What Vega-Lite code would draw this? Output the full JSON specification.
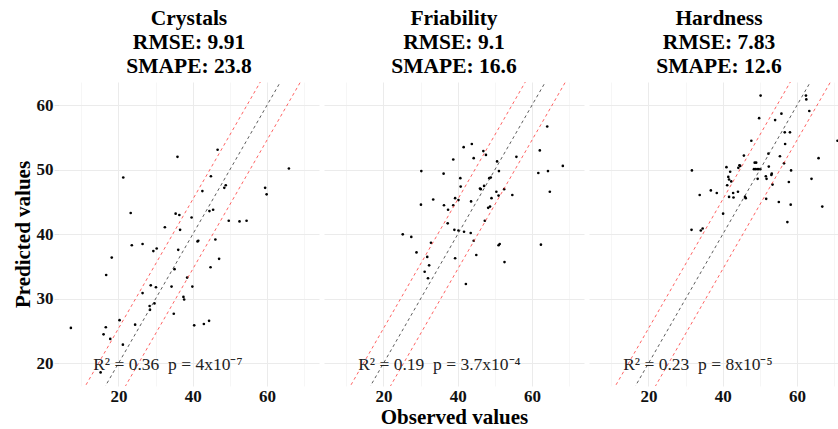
{
  "$schema": "https://vega.github.io/schema/vega-lite/v6.json",
  "padding": {"left": 12, "top": 7, "right": 0, "bottom": 0},
  "spacing": 5,
  "background": "white",
  "config": {
    "view": {"stroke": null},
    "font": "Liberation Serif",
    "axis": {
      "labelFont": "Liberation Serif",
      "labelFontWeight": "bold",
      "labelFontSize": 17,
      "labelColor": "#111111",
      "titleFont": "Liberation Serif",
      "titleFontWeight": "bold",
      "titleFontSize": 21,
      "titleColor": "black",
      "domain": false,
      "labelFlush": false,
      "labelOverlap": false
    }
  },
  "datasets": {
    "pts": [
      {"panel":"Crystals","observed":7.2,"predicted":25.5},
      {"panel":"Crystals","observed":15.2,"predicted":18.6},
      {"panel":"Crystals","observed":16.6,"predicted":25.6},
      {"panel":"Crystals","observed":16.0,"predicted":24.5},
      {"panel":"Crystals","observed":17.8,"predicted":23.8},
      {"panel":"Crystals","observed":16.7,"predicted":33.7},
      {"panel":"Crystals","observed":18.2,"predicted":36.4},
      {"panel":"Crystals","observed":20.3,"predicted":26.7},
      {"panel":"Crystals","observed":21.2,"predicted":22.9},
      {"panel":"Crystals","observed":21.3,"predicted":48.8},
      {"panel":"Crystals","observed":23.3,"predicted":43.3},
      {"panel":"Crystals","observed":23.6,"predicted":38.3},
      {"panel":"Crystals","observed":24.5,"predicted":26.0},
      {"panel":"Crystals","observed":26.5,"predicted":30.9},
      {"panel":"Crystals","observed":26.5,"predicted":38.5},
      {"panel":"Crystals","observed":28.4,"predicted":28.9},
      {"panel":"Crystals","observed":28.5,"predicted":28.3},
      {"panel":"Crystals","observed":28.7,"predicted":32.1},
      {"panel":"Crystals","observed":29.4,"predicted":37.4},
      {"panel":"Crystals","observed":30.3,"predicted":37.8},
      {"panel":"Crystals","observed":29.7,"predicted":29.3},
      {"panel":"Crystals","observed":30.1,"predicted":31.8},
      {"panel":"Crystals","observed":32.5,"predicted":41.1},
      {"panel":"Crystals","observed":34.3,"predicted":31.9},
      {"panel":"Crystals","observed":34.9,"predicted":27.7},
      {"panel":"Crystals","observed":35.1,"predicted":34.6},
      {"panel":"Crystals","observed":35.4,"predicted":43.2},
      {"panel":"Crystals","observed":35.9,"predicted":52.0},
      {"panel":"Crystals","observed":36.1,"predicted":37.6},
      {"panel":"Crystals","observed":36.4,"predicted":43.0},
      {"panel":"Crystals","observed":36.6,"predicted":40.7},
      {"panel":"Crystals","observed":37.5,"predicted":30.3},
      {"panel":"Crystals","observed":37.7,"predicted":29.9},
      {"panel":"Crystals","observed":38.5,"predicted":33.3},
      {"panel":"Crystals","observed":39.7,"predicted":42.6},
      {"panel":"Crystals","observed":39.9,"predicted":31.9},
      {"panel":"Crystals","observed":40.4,"predicted":25.9},
      {"panel":"Crystals","observed":41.3,"predicted":38.9},
      {"panel":"Crystals","observed":41.5,"predicted":39.0},
      {"panel":"Crystals","observed":42.6,"predicted":46.7},
      {"panel":"Crystals","observed":43.0,"predicted":26.1},
      {"panel":"Crystals","observed":44.4,"predicted":26.6},
      {"panel":"Crystals","observed":44.5,"predicted":43.6},
      {"panel":"Crystals","observed":44.8,"predicted":34.9},
      {"panel":"Crystals","observed":44.9,"predicted":49.0},
      {"panel":"Crystals","observed":45.5,"predicted":43.8},
      {"panel":"Crystals","observed":46.1,"predicted":39.2},
      {"panel":"Crystals","observed":46.7,"predicted":53.1},
      {"panel":"Crystals","observed":47.1,"predicted":36.2},
      {"panel":"Crystals","observed":48.5,"predicted":47.2},
      {"panel":"Crystals","observed":48.9,"predicted":47.6},
      {"panel":"Crystals","observed":49.7,"predicted":42.1},
      {"panel":"Crystals","observed":52.6,"predicted":42.0},
      {"panel":"Crystals","observed":54.5,"predicted":42.1},
      {"panel":"Crystals","observed":59.5,"predicted":47.2},
      {"panel":"Crystals","observed":59.9,"predicted":46.2},
      {"panel":"Crystals","observed":65.9,"predicted":50.2},
      {"panel":"Friability","observed":25.2,"predicted":40.0},
      {"panel":"Friability","observed":27.5,"predicted":39.6},
      {"panel":"Friability","observed":28.9,"predicted":37.2},
      {"panel":"Friability","observed":30.2,"predicted":49.8},
      {"panel":"Friability","observed":30.1,"predicted":44.6},
      {"panel":"Friability","observed":31.1,"predicted":34.2},
      {"panel":"Friability","observed":31.8,"predicted":36.5},
      {"panel":"Friability","observed":32.0,"predicted":33.2},
      {"panel":"Friability","observed":32.3,"predicted":35.2},
      {"panel":"Friability","observed":32.8,"predicted":38.7},
      {"panel":"Friability","observed":33.4,"predicted":45.4},
      {"panel":"Friability","observed":36.2,"predicted":49.4},
      {"panel":"Friability","observed":36.3,"predicted":44.5},
      {"panel":"Friability","observed":37.4,"predicted":43.8},
      {"panel":"Friability","observed":37.3,"predicted":41.7},
      {"panel":"Friability","observed":38.8,"predicted":51.6},
      {"panel":"Friability","observed":38.8,"predicted":44.5},
      {"panel":"Friability","observed":39.3,"predicted":45.6},
      {"panel":"Friability","observed":39.1,"predicted":40.7},
      {"panel":"Friability","observed":39.3,"predicted":36.3},
      {"panel":"Friability","observed":40.2,"predicted":45.3},
      {"panel":"Friability","observed":40.2,"predicted":40.6},
      {"panel":"Friability","observed":40.7,"predicted":48.7},
      {"panel":"Friability","observed":40.8,"predicted":47.4},
      {"panel":"Friability","observed":41.6,"predicted":53.5},
      {"panel":"Friability","observed":41.7,"predicted":40.4},
      {"panel":"Friability","observed":42.2,"predicted":32.3},
      {"panel":"Friability","observed":43.5,"predicted":40.2},
      {"panel":"Friability","observed":43.6,"predicted":45.1},
      {"panel":"Friability","observed":43.8,"predicted":54.0},
      {"panel":"Friability","observed":44.3,"predicted":51.8},
      {"panel":"Friability","observed":44.3,"predicted":39.0},
      {"panel":"Friability","observed":45.0,"predicted":36.8},
      {"panel":"Friability","observed":46.0,"predicted":47.1},
      {"panel":"Friability","observed":46.2,"predicted":47.0},
      {"panel":"Friability","observed":46.9,"predicted":52.9},
      {"panel":"Friability","observed":47.1,"predicted":47.5},
      {"panel":"Friability","observed":47.3,"predicted":42.1},
      {"panel":"Friability","observed":47.6,"predicted":52.3},
      {"panel":"Friability","observed":48.2,"predicted":44.1},
      {"panel":"Friability","observed":48.7,"predicted":44.3},
      {"panel":"Friability","observed":48.5,"predicted":48.7},
      {"panel":"Friability","observed":48.9,"predicted":48.8},
      {"panel":"Friability","observed":49.1,"predicted":45.6},
      {"panel":"Friability","observed":50.4,"predicted":46.6},
      {"panel":"Friability","observed":50.6,"predicted":51.3},
      {"panel":"Friability","observed":51.0,"predicted":46.0},
      {"panel":"Friability","observed":51.1,"predicted":49.8},
      {"panel":"Friability","observed":51.0,"predicted":38.3},
      {"panel":"Friability","observed":51.3,"predicted":38.5},
      {"panel":"Friability","observed":52.5,"predicted":47.0},
      {"panel":"Friability","observed":52.6,"predicted":35.7},
      {"panel":"Friability","observed":54.7,"predicted":46.1},
      {"panel":"Friability","observed":55.8,"predicted":52.0},
      {"panel":"Friability","observed":61.7,"predicted":49.5},
      {"panel":"Friability","observed":62.1,"predicted":53.0},
      {"panel":"Friability","observed":62.4,"predicted":38.4},
      {"panel":"Friability","observed":64.1,"predicted":56.7},
      {"panel":"Friability","observed":64.3,"predicted":49.8},
      {"panel":"Friability","observed":64.8,"predicted":46.6},
      {"panel":"Friability","observed":68.3,"predicted":50.6},
      {"panel":"Hardness","observed":31.7,"predicted":49.9},
      {"panel":"Hardness","observed":31.6,"predicted":40.7},
      {"panel":"Hardness","observed":33.8,"predicted":46.1},
      {"panel":"Hardness","observed":34.1,"predicted":40.6},
      {"panel":"Hardness","observed":34.6,"predicted":40.9},
      {"panel":"Hardness","observed":36.8,"predicted":46.8},
      {"panel":"Hardness","observed":38.4,"predicted":46.4},
      {"panel":"Hardness","observed":40.1,"predicted":43.2},
      {"panel":"Hardness","observed":41.0,"predicted":50.4},
      {"panel":"Hardness","observed":41.2,"predicted":47.6},
      {"panel":"Hardness","observed":41.5,"predicted":48.9},
      {"panel":"Hardness","observed":41.7,"predicted":48.5},
      {"panel":"Hardness","observed":42.0,"predicted":49.7},
      {"panel":"Hardness","observed":41.7,"predicted":45.8},
      {"panel":"Hardness","observed":42.3,"predicted":48.2},
      {"panel":"Hardness","observed":42.8,"predicted":46.4},
      {"panel":"Hardness","observed":42.9,"predicted":45.7},
      {"panel":"Hardness","observed":44.1,"predicted":46.6},
      {"panel":"Hardness","observed":44.2,"predicted":50.3},
      {"panel":"Hardness","observed":44.5,"predicted":50.7},
      {"panel":"Hardness","observed":44.7,"predicted":50.6},
      {"panel":"Hardness","observed":45.7,"predicted":52.2},
      {"panel":"Hardness","observed":46.0,"predicted":45.8},
      {"panel":"Hardness","observed":46.2,"predicted":45.6},
      {"panel":"Hardness","observed":47.7,"predicted":54.5},
      {"panel":"Hardness","observed":48.4,"predicted":50.1},
      {"panel":"Hardness","observed":48.6,"predicted":51.1},
      {"panel":"Hardness","observed":49.0,"predicted":51.1},
      {"panel":"Hardness","observed":48.9,"predicted":50.1},
      {"panel":"Hardness","observed":49.4,"predicted":48.6},
      {"panel":"Hardness","observed":49.5,"predicted":50.1},
      {"panel":"Hardness","observed":49.8,"predicted":58.0},
      {"panel":"Hardness","observed":50.2,"predicted":61.5},
      {"panel":"Hardness","observed":50.1,"predicted":50.1},
      {"panel":"Hardness","observed":51.6,"predicted":49.0},
      {"panel":"Hardness","observed":51.8,"predicted":48.6},
      {"panel":"Hardness","observed":51.7,"predicted":45.5},
      {"panel":"Hardness","observed":52.3,"predicted":52.5},
      {"panel":"Hardness","observed":52.4,"predicted":50.5},
      {"panel":"Hardness","observed":53.2,"predicted":49.4},
      {"panel":"Hardness","observed":53.1,"predicted":49.2},
      {"panel":"Hardness","observed":53.4,"predicted":47.7},
      {"panel":"Hardness","observed":54.1,"predicted":57.7},
      {"panel":"Hardness","observed":55.1,"predicted":45.0},
      {"panel":"Hardness","observed":55.4,"predicted":52.1},
      {"panel":"Hardness","observed":55.8,"predicted":58.7},
      {"panel":"Hardness","observed":56.5,"predicted":51.0},
      {"panel":"Hardness","observed":56.7,"predicted":55.8},
      {"panel":"Hardness","observed":56.8,"predicted":54.0},
      {"panel":"Hardness","observed":57.4,"predicted":41.9},
      {"panel":"Hardness","observed":57.8,"predicted":48.1},
      {"panel":"Hardness","observed":58.1,"predicted":55.8},
      {"panel":"Hardness","observed":58.3,"predicted":44.6},
      {"panel":"Hardness","observed":58.4,"predicted":49.9},
      {"panel":"Hardness","observed":62.4,"predicted":61.5},
      {"panel":"Hardness","observed":62.5,"predicted":60.9},
      {"panel":"Hardness","observed":63.3,"predicted":59.1},
      {"panel":"Hardness","observed":63.9,"predicted":48.6},
      {"panel":"Hardness","observed":65.8,"predicted":51.8},
      {"panel":"Hardness","observed":66.8,"predicted":44.3},
      {"panel":"Hardness","observed":70.9,"predicted":54.5}
    ],
    "lines": [
      {"kind":"ref","observed":0,"predicted":0},
      {"kind":"ref","observed":80,"predicted":80},
      {"kind":"lo","observed":0,"predicted":-5.4},
      {"kind":"lo","observed":80,"predicted":74.6},
      {"kind":"hi","observed":0,"predicted":5.4},
      {"kind":"hi","observed":80,"predicted":85.4}
    ],
    "ann": [
      {"panel":"Crystals","observed":13.2,"predicted":19.05,"label":"R² = 0.36 \u00a0p = 4x10⁻⁷"},
      {"panel":"Friability","observed":13.2,"predicted":19.05,"label":"R² = 0.19 \u00a0p = 3.7x10⁻⁴"},
      {"panel":"Hardness","observed":13.2,"predicted":19.05,"label":"R² = 0.23 \u00a0p = 8x10⁻⁵"}
    ]
  },
  "hconcat": [
    {
      "width": 260, "height": 304,
      "title": {"text": ["Crystals", "RMSE: 9.91", "SMAPE: 23.8"], "font": "Liberation Serif", "fontSize": 21.5, "fontWeight": "bold", "lineHeight": 24, "anchor": "middle", "offset": 5, "color": "black"},
      "layer": [
        {
          "data": {"name": "pts"},
          "transform": [{"filter": "datum.panel === 'Crystals'"}],
          "mark": {"type": "circle", "size": 7, "color": "black", "opacity": 1},
          "encoding": {
            "x": {"field": "observed", "type": "quantitative", "scale": {"domain": [4, 74], "nice": false, "zero": false},
              "axis": {"values": [10,20,30,40,50,60,70], "labelExpr": "datum.value % 20 === 0 ? datum.label : ''", "ticks": false, "labelPadding": 2, "title": null,
                "gridColor": {"condition": {"test": "datum.value % 20 === 0", "value": "#EBEBEB"}, "value": "#F6F6F6"}}},
            "y": {"field": "predicted", "type": "quantitative", "scale": {"domain": [16.5, 63.6], "nice": false, "zero": false},
              "axis": {"values": [20,25,30,35,40,45,50,55,60], "labelExpr": "datum.value % 10 === 0 ? datum.label : ''", "ticks": true, "tickSize": 5,
                "tickColor": {"condition": {"test": "datum.value % 10 === 0", "value": "#E3E3E3"}, "value": "#F6F6F6"},
                "labelPadding": 1, "title": "Predicted values", "titlePadding": 3,
                "gridColor": {"condition": {"test": "datum.value % 10 === 0", "value": "#EBEBEB"}, "value": "#F6F6F6"}}}
          }
        },
        {
          "data": {"name": "lines"},
          "mark": {"type": "line", "clip": true, "strokeDash": [3, 3], "strokeWidth": 0.8},
          "encoding": {
            "x": {"field": "observed", "type": "quantitative"},
            "y": {"field": "predicted", "type": "quantitative"},
            "color": {"field": "kind", "type": "nominal", "scale": {"domain": ["ref", "lo", "hi"], "range": ["#333333", "#FF3B3B", "#FF3B3B"]}, "legend": null}
          }
        },
        {
          "data": {"name": "ann"},
          "transform": [{"filter": "datum.panel === 'Crystals'"}],
          "mark": {"type": "text", "align": "left", "baseline": "alphabetic", "font": "Liberation Serif", "fontSize": 17.5, "color": "#222222"},
          "encoding": {
            "x": {"field": "observed", "type": "quantitative"},
            "y": {"field": "predicted", "type": "quantitative"},
            "text": {"field": "label"}
          }
        }
      ]
    },
    {
      "width": 260, "height": 304,
      "title": {"text": ["Friability", "RMSE: 9.1", "SMAPE: 16.6"], "font": "Liberation Serif", "fontSize": 21.5, "fontWeight": "bold", "lineHeight": 24, "anchor": "middle", "offset": 5, "color": "black"},
      "layer": [
        {
          "data": {"name": "pts"},
          "transform": [{"filter": "datum.panel === 'Friability'"}],
          "mark": {"type": "circle", "size": 7, "color": "black", "opacity": 1},
          "encoding": {
            "x": {"field": "observed", "type": "quantitative", "scale": {"domain": [4, 74], "nice": false, "zero": false},
              "axis": {"values": [10,20,30,40,50,60,70], "labelExpr": "datum.value % 20 === 0 ? datum.label : ''", "ticks": false, "labelPadding": 2, "title": "Observed values", "titlePadding": 2,
                "gridColor": {"condition": {"test": "datum.value % 20 === 0", "value": "#EBEBEB"}, "value": "#F6F6F6"}}},
            "y": {"field": "predicted", "type": "quantitative", "scale": {"domain": [16.5, 63.6], "nice": false, "zero": false},
              "axis": {"values": [20,25,30,35,40,45,50,55,60], "labels": false, "ticks": false, "title": null,
                "gridColor": {"condition": {"test": "datum.value % 10 === 0", "value": "#EBEBEB"}, "value": "#F6F6F6"}}}
          }
        },
        {
          "data": {"name": "lines"},
          "mark": {"type": "line", "clip": true, "strokeDash": [3, 3], "strokeWidth": 0.8},
          "encoding": {
            "x": {"field": "observed", "type": "quantitative"},
            "y": {"field": "predicted", "type": "quantitative"},
            "color": {"field": "kind", "type": "nominal", "scale": {"domain": ["ref", "lo", "hi"], "range": ["#333333", "#FF3B3B", "#FF3B3B"]}, "legend": null}
          }
        },
        {
          "data": {"name": "ann"},
          "transform": [{"filter": "datum.panel === 'Friability'"}],
          "mark": {"type": "text", "align": "left", "baseline": "alphabetic", "font": "Liberation Serif", "fontSize": 17.5, "color": "#222222"},
          "encoding": {
            "x": {"field": "observed", "type": "quantitative"},
            "y": {"field": "predicted", "type": "quantitative"},
            "text": {"field": "label"}
          }
        }
      ]
    },
    {
      "width": 250, "height": 304,
      "title": {"text": ["Hardness", "RMSE: 7.83", "SMAPE: 12.6"], "font": "Liberation Serif", "fontSize": 21.5, "fontWeight": "bold", "lineHeight": 24, "anchor": "middle", "offset": 5, "dx": 5, "color": "black"},
      "layer": [
        {
          "data": {"name": "pts"},
          "transform": [{"filter": "datum.panel === 'Hardness'"}],
          "mark": {"type": "circle", "size": 7, "color": "black", "opacity": 1},
          "encoding": {
            "x": {"field": "observed", "type": "quantitative", "scale": {"domain": [4, 71.3], "nice": false, "zero": false},
              "axis": {"values": [10,20,30,40,50,60,70], "labelExpr": "datum.value % 20 === 0 ? datum.label : ''", "ticks": false, "labelPadding": 2, "title": null,
                "gridColor": {"condition": {"test": "datum.value % 20 === 0", "value": "#EBEBEB"}, "value": "#F6F6F6"}}},
            "y": {"field": "predicted", "type": "quantitative", "scale": {"domain": [16.5, 63.6], "nice": false, "zero": false},
              "axis": {"values": [20,25,30,35,40,45,50,55,60], "labels": false, "ticks": false, "title": null,
                "gridColor": {"condition": {"test": "datum.value % 10 === 0", "value": "#EBEBEB"}, "value": "#F6F6F6"}}}
          }
        },
        {
          "data": {"name": "lines"},
          "mark": {"type": "line", "clip": true, "strokeDash": [3, 3], "strokeWidth": 0.8},
          "encoding": {
            "x": {"field": "observed", "type": "quantitative"},
            "y": {"field": "predicted", "type": "quantitative"},
            "color": {"field": "kind", "type": "nominal", "scale": {"domain": ["ref", "lo", "hi"], "range": ["#333333", "#FF3B3B", "#FF3B3B"]}, "legend": null}
          }
        },
        {
          "data": {"name": "ann"},
          "transform": [{"filter": "datum.panel === 'Hardness'"}],
          "mark": {"type": "text", "align": "left", "baseline": "alphabetic", "font": "Liberation Serif", "fontSize": 17.5, "color": "#222222"},
          "encoding": {
            "x": {"field": "observed", "type": "quantitative"},
            "y": {"field": "predicted", "type": "quantitative"},
            "text": {"field": "label"}
          }
        }
      ]
    }
  ]
}
